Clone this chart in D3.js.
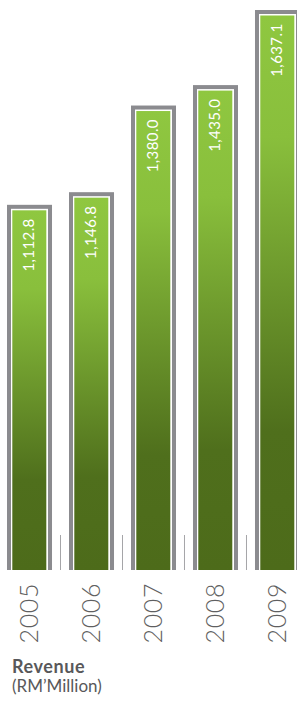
<!DOCTYPE html>
<html>
<head>
<meta charset="utf-8">
<script src="https://cdn.jsdelivr.net/npm/d3@7"></script>
<style>
  html, body { margin: 0; padding: 0; background: #fff; }
  svg { display: block; font-family: Lato, "Open Sans", sans-serif; }
</style>
</head>
<body>
<div id="chart"></div>
<script>
// revenue per year
const years = ["2005", "2006", "2007", "2008", "2009"];
const revenue = [1112.8, 1146.8, 1380.0, 1435.0, 1637.1];
const valueLabels = ["1,112.8", "1,146.8", "1,380.0", "1,435.0", "1,637.1"];
const titleText = "Revenue";
const unitText = "(RM\u2019Million)";

const width = 297, height = 702;
const baseline = 570;

const svg = d3.select("#chart").append("svg")
    .attr("width", width)
    .attr("height", height);

// gradient for the bar fill
const grad = svg.append("defs").append("linearGradient")
    .attr("id", "barGrad")
    .attr("x1", "0%").attr("y1", "0%")
    .attr("x2", "0%").attr("y2", "100%");
grad.append("stop").attr("offset", "0%").attr("stop-color", "#8fc740");
grad.append("stop").attr("offset", "22%").attr("stop-color", "#89bf3c");
grad.append("stop").attr("offset", "75%").attr("stop-color", "#4f6f1c");
grad.append("stop").attr("offset", "100%").attr("stop-color", "#4d6b1a");

const x = d3.scaleBand()
    .domain(years)
    .range([7, 300])
    .paddingInner(0.274)
    .paddingOuter(0);

const y = d3.scaleLinear()
    .domain([130, 1637.1])
    .range([baseline, 10]);

const bw = x.bandwidth();
const data = years.map((yr, i) => ({year: yr, value: revenue[i], label: valueLabels[i]}));

const bar = svg.selectAll(".bar")
    .data(data)
    .enter().append("g")
    .attr("class", "bar")
    .attr("transform", d => "translate(" + x(d.year) + ",0)");

// grey frame
bar.append("rect")
    .attr("x", 0)
    .attr("y", d => y(d.value))
    .attr("width", bw)
    .attr("height", d => baseline - y(d.value))
    .attr("fill", "#8b8b8f");

// white inner gap
bar.append("rect")
    .attr("x", 4)
    .attr("y", d => y(d.value) + 4)
    .attr("width", bw - 8)
    .attr("height", d => baseline - y(d.value) - 4)
    .attr("fill", "#ffffff");

// green fill
bar.append("rect")
    .attr("x", 5.3)
    .attr("y", d => y(d.value) + 5.5)
    .attr("width", bw - 11)
    .attr("height", d => baseline - y(d.value) - 5.5)
    .attr("fill", "url(#barGrad)");

// value labels
bar.append("text")
    .attr("transform", d => "translate(" + (bw / 2 - 0.5) + "," + (y(d.value) + 13.5) + ") rotate(-90)")
    .attr("text-anchor", "end")
    .attr("dy", "0.35em")
    .attr("fill", "#ffffff")
    .style("font-size", "15px")
    .style("letter-spacing", "0.4px")
    .text(d => d.label);

// year labels
bar.append("text")
    .attr("transform", "translate(" + (bw / 2 - 0.5) + "," + (baseline + 13) + ") rotate(-90)")
    .attr("text-anchor", "end")
    .attr("dy", "0.36em")
    .attr("fill", "#5f5f61")
    .style("font-size", "25px")
    .style("font-weight", 300)
    .style("letter-spacing", "0.6px")
    .text(d => d.year);

// small separators between bars
const gap = x.step() - bw;
svg.selectAll(".sep")
    .data(years.slice(0, -1))
    .enter().append("line")
    .attr("class", "sep")
    .attr("x1", d => x(d) + bw + gap / 2)
    .attr("x2", d => x(d) + bw + gap / 2)
    .attr("y1", baseline - 35)
    .attr("y2", baseline)
    .attr("stroke", "#a5a5a8")
    .attr("stroke-width", 1);

// title
svg.append("text")
    .attr("x", 12)
    .attr("y", 673)
    .attr("fill", "#58585a")
    .style("font-size", "18px")
    .style("font-weight", "bold")
    .style("letter-spacing", "0.6px")
    .text(titleText);

svg.append("text")
    .attr("x", 12)
    .attr("y", 692)
    .attr("fill", "#58585a")
    .style("font-size", "17px")
    .text(unitText);
</script>
</body>
</html>
